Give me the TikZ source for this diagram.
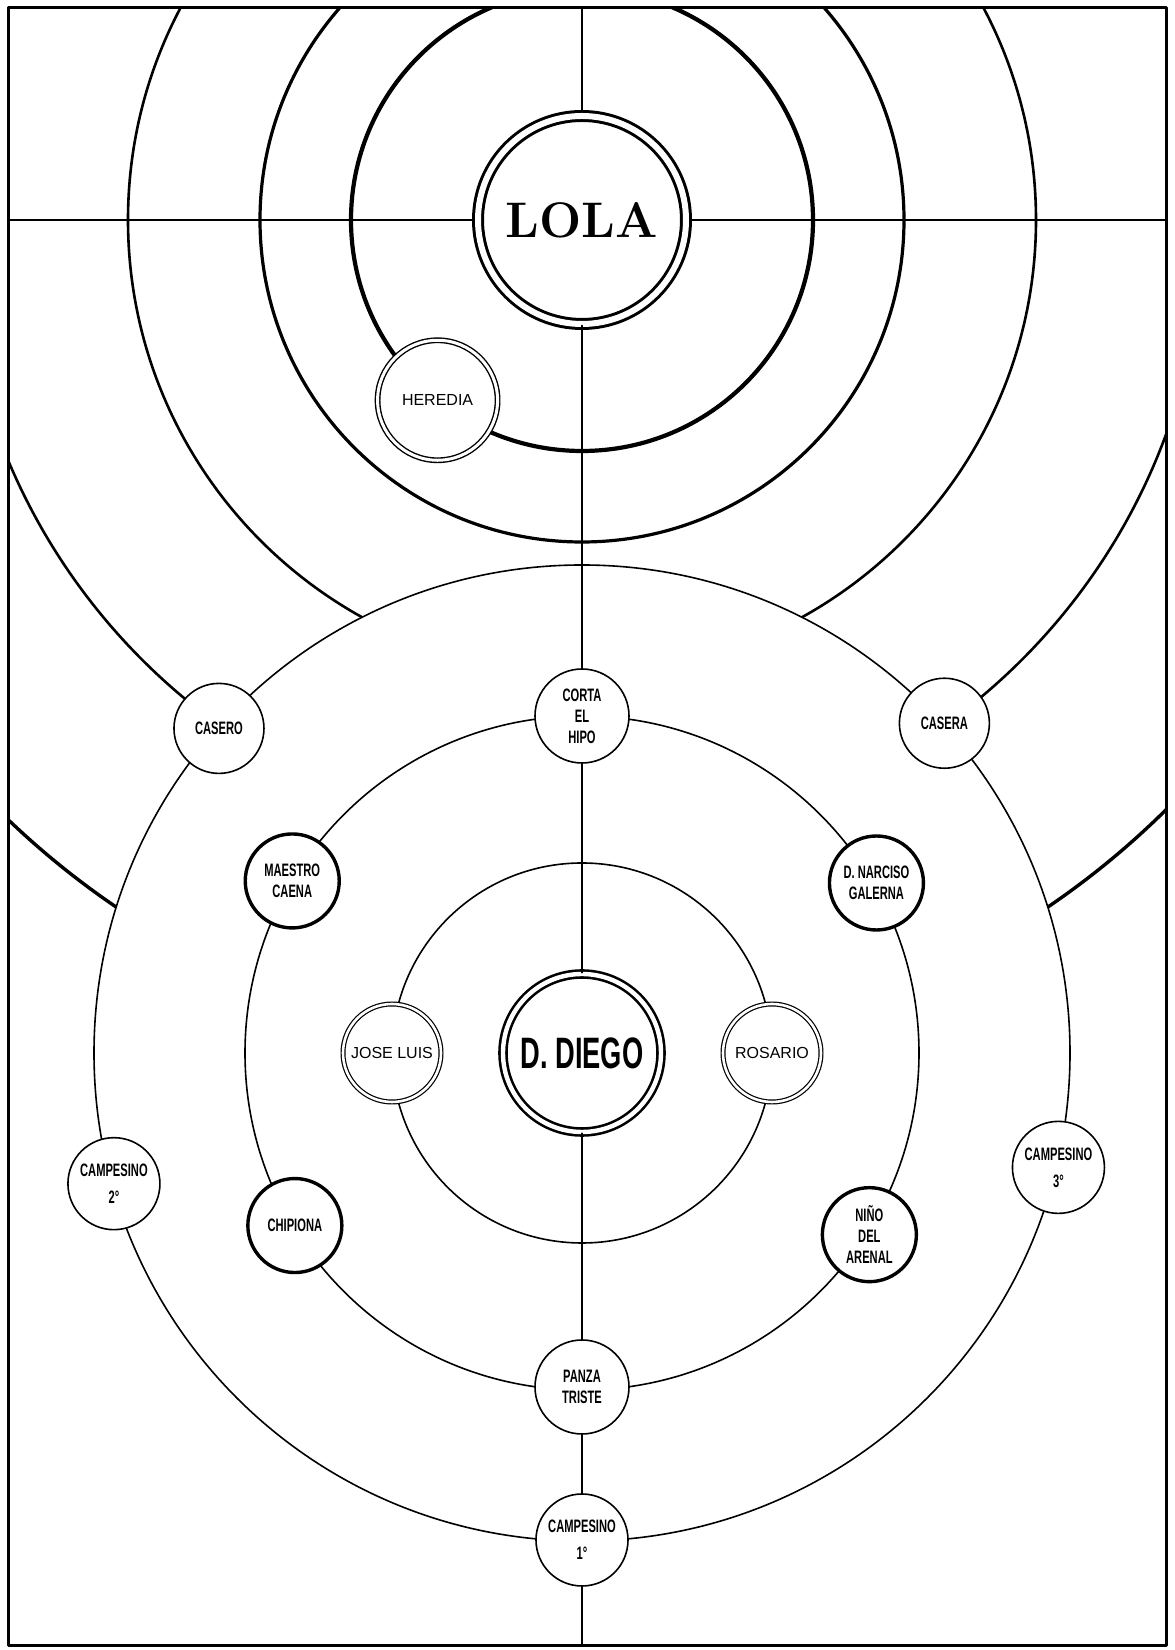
\documentclass[tikz,border=0pt]{standalone}
\usepackage{fontspec}
\usetikzlibrary{calc,positioning}
\newfontfamily\castfont[FakeStretch=0.62]{Liberation Sans}
\newfontfamily\plainfont{Liberation Sans}

\begin{document}
\begin{tikzpicture}[
  x=0.5pt,y=0.5pt,
  line cap=round,line join=round,
  ring/.style={draw=black,line width=0.8pt},
  person/.style={circle,draw=black,fill=white,inner sep=0pt,minimum size=47pt,
    line width=0.8pt,align=center,
    font=\castfont\bfseries\fontsize{9}{10.5}\selectfont},
  strongperson/.style={person,line width=1.7pt},
  pairperson/.style={person,double=white,double distance=1.3pt,line width=0.6pt,
    minimum size=49pt,font=\plainfont\fontsize{8}{10}\selectfont},
  hub/.style={person,double=white,double distance=2.2pt,line width=1.3pt},
  link/.style={draw=black,line width=0.8pt}
]
\useasboundingbox (0,0) rectangle (1174,1650);

\coordinate (lolac) at (582,1430);
\coordinate (diegoc) at (582,597);
\coordinate (frameSW) at (8,4);
\coordinate (frameNE) at (1166,1642);

% rings round LOLA, cut by the frame
\begin{scope}
  \clip (frameSW) rectangle (frameNE);
  \draw[ring,line width=2.1pt] (lolac) circle (231);
  \draw[ring,line width=1.6pt] (lolac) circle (322);
  \draw[ring,line width=1.3pt] (lolac) circle (454);
  \draw[ring,line width=1.3pt] (lolac) circle (622);
  \draw[ring,line width=1.7pt] (lolac) circle (830);
  \draw[link,line width=1.2pt] (8,1430) -- (1166,1430);
  \draw[link] (582,1642) -- (lolac);
\end{scope}

% rings round D. DIEGO
\fill[white] (diegoc) circle (488);
\draw[ring] (diegoc) circle (488);
\draw[ring] (diegoc) circle (337);
\draw[ring] (diegoc) circle (190);

\coordinate (topend) at (582,1642);
\coordinate (bottomend) at (582,4);

\node[hub,minimum size=104pt,double distance=3pt,line width=1.5pt,
  font=\bfseries\fontsize{25}{28}\selectfont] (lola) at (lolac) {LOLA};
\node[pairperson,minimum size=60pt,double distance=1.5pt,line width=0.7pt]
  (heredia) at ($(lolac)+(231.3:231)$) {HEREDIA};

\node[hub,minimum size=79pt,font=\castfont\bfseries\fontsize{22}{24}\selectfont]
  (diego) at (diegoc) {D. DIEGO};
\node[pairperson] (joseluis) at ($(diegoc)+(180:190)$) {JOSE LUIS};
\node[pairperson] (rosario) at ($(diegoc)+(0:190)$) {ROSARIO};

\node[person] (corta) at ($(diegoc)+(90:337)$) {CORTA\\EL\\HIPO};
\node[strongperson] (maestro) at ($(diegoc)+(149.3:337)$) {MAESTRO\\CAENA};
\node[strongperson] (narciso) at ($(diegoc)+(30:340)$) {D. NARCISO\\GALERNA};
\node[strongperson] (chipiona) at ($(diegoc)+(211:335)$) {CHIPIONA};
\node[strongperson] (nino) at ($(diegoc)+(327.7:340)$) {NIÑO\\DEL\\ARENAL};
\node[person] (panza) at ($(diegoc)+(270:334)$) {PANZA\\TRISTE};

\node[person,minimum size=45pt] (casero) at ($(diegoc)+(138.2:487)$) {CASERO};
\node[person,minimum size=45pt] (casera) at ($(diegoc)+(42.3:490)$) {CASERA};
\node[person,minimum size=46pt] (campesinoB) at ($(diegoc)+(195.6:486)$) {CAMPESINO\\[3pt]2°};
\node[person,minimum size=46pt] (campesinoC) at ($(diegoc)+(346.5:490)$) {CAMPESINO\\[3pt]3°};
\node[person,minimum size=46pt] (campesinoA) at ($(diegoc)+(270:487)$) {CAMPESINO\\[3pt]1°};

% spine
\draw[link] (lola) -- (corta);
\draw[link] (corta) -- (diego);
\draw[link] (diego) -- (panza);
\draw[link] (panza) -- (campesinoA);
\draw[link] (campesinoA) -- (bottomend);

\draw[line width=1.5pt] (frameSW) rectangle (frameNE);
\end{tikzpicture}
\end{document}
